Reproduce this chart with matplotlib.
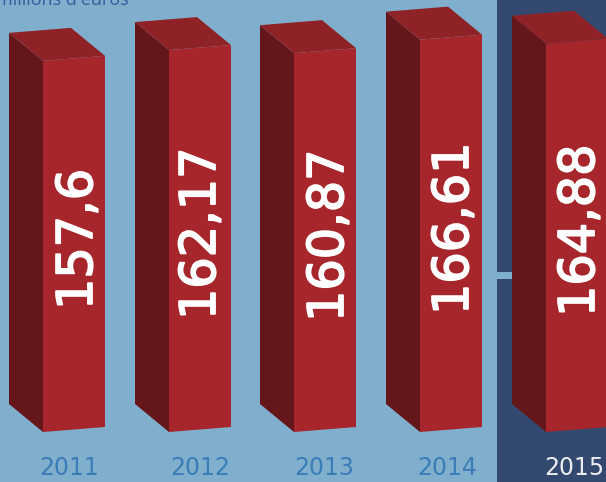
import matplotlib
matplotlib.use("Agg")
import matplotlib.pyplot as plt
import matplotlib.patheffects as pe

# data
years = ['2011', '2012', '2013', '2014', '2015']
values = [157.6, 162.17, 160.87, 166.61, 164.88]
value_labels = ['157,6', '162,17', '160,87', '166,61', '164,88']

# layout, in pixels of the picture
W, H = 606, 482
BASE_PX = 432
PX_PER_UNIT = 2.355
front_left = [43, 169, 294, 420, 546]
year_x = [69.5, 200, 324, 447, 574]
label_x = [78, 201, 329, 454, 580]
label_bottom = [310, 320, 322, 315, 317]
FRONT_W = 62
DEPTH_X, DEPTH_Y = 34, 28
SLANT = 5

BG = '#7FAFCD'
PANEL = '#33496F'
FRONT = '#A6262B'
SIDE = '#64161A'
TOP = '#8E2226'


def to_val(px):
    # pixel row -> value on the y axis
    return (BASE_PX - px) / PX_PER_UNIT


fig = plt.figure(figsize=(W / 100, H / 100), dpi=100, facecolor=BG)
ax = fig.add_axes([0, 0, 1, 1], facecolor=BG)
ax.set_xlim(0, W)
ax.set_ylim(to_val(H), to_val(0))
ax.axis('off')

# dark panel behind 2015, with the little light strip
ax.fill([497, W, W, 497], [to_val(H), to_val(H), to_val(0), to_val(0)], color=PANEL, lw=0, zorder=1)
ax.fill([497, 512, 512, 497], [to_val(279), to_val(279), to_val(272), to_val(272)], color=BG, lw=0, zorder=2)

ds = DEPTH_Y / PX_PER_UNIT
sl = SLANT / PX_PER_UNIT
for v, x0 in zip(values, front_left):
    x1 = x0 + FRONT_W
    bx = x0 - DEPTH_X
    # side face
    ax.fill([bx, x0, x0, bx], [ds, 0, v, v + ds], color=SIDE, lw=0, zorder=3)
    # top face
    ax.fill([x0, x1, x1 - DEPTH_X, bx], [v, v + sl, v + sl + ds, v + ds], color=TOP, lw=0, zorder=3)
    # front face
    ax.fill([x0, x1, x1, x0], [0, sl, v + sl, v], color=FRONT, lw=0, zorder=4)

for lab, x, b in zip(value_labels, label_x, label_bottom):
    t = ax.text(x, to_val(b), lab, rotation=90, ha='center', va='bottom', color='white',
                fontsize=35.5, family='DejaVu Sans', zorder=5)
    t.set_path_effects([pe.withStroke(linewidth=1.3, foreground='white')])

for i, yr in enumerate(years):
    col = 'white' if yr == '2015' else '#3A7DB8'
    ax.text(year_x[i], to_val(468), yr, ha='center', va='center', color=col, fontsize=17,
            family='DejaVu Sans', alpha=0.9 if yr == '2015' else 1, zorder=5)

ax.text(-4, to_val(5), "millions d'euros", ha='left', va='baseline', color='#3A5A9C',
        fontsize=13, family='Open Sans', zorder=5)

plt.savefig('out.png', dpi=100, facecolor=BG)
